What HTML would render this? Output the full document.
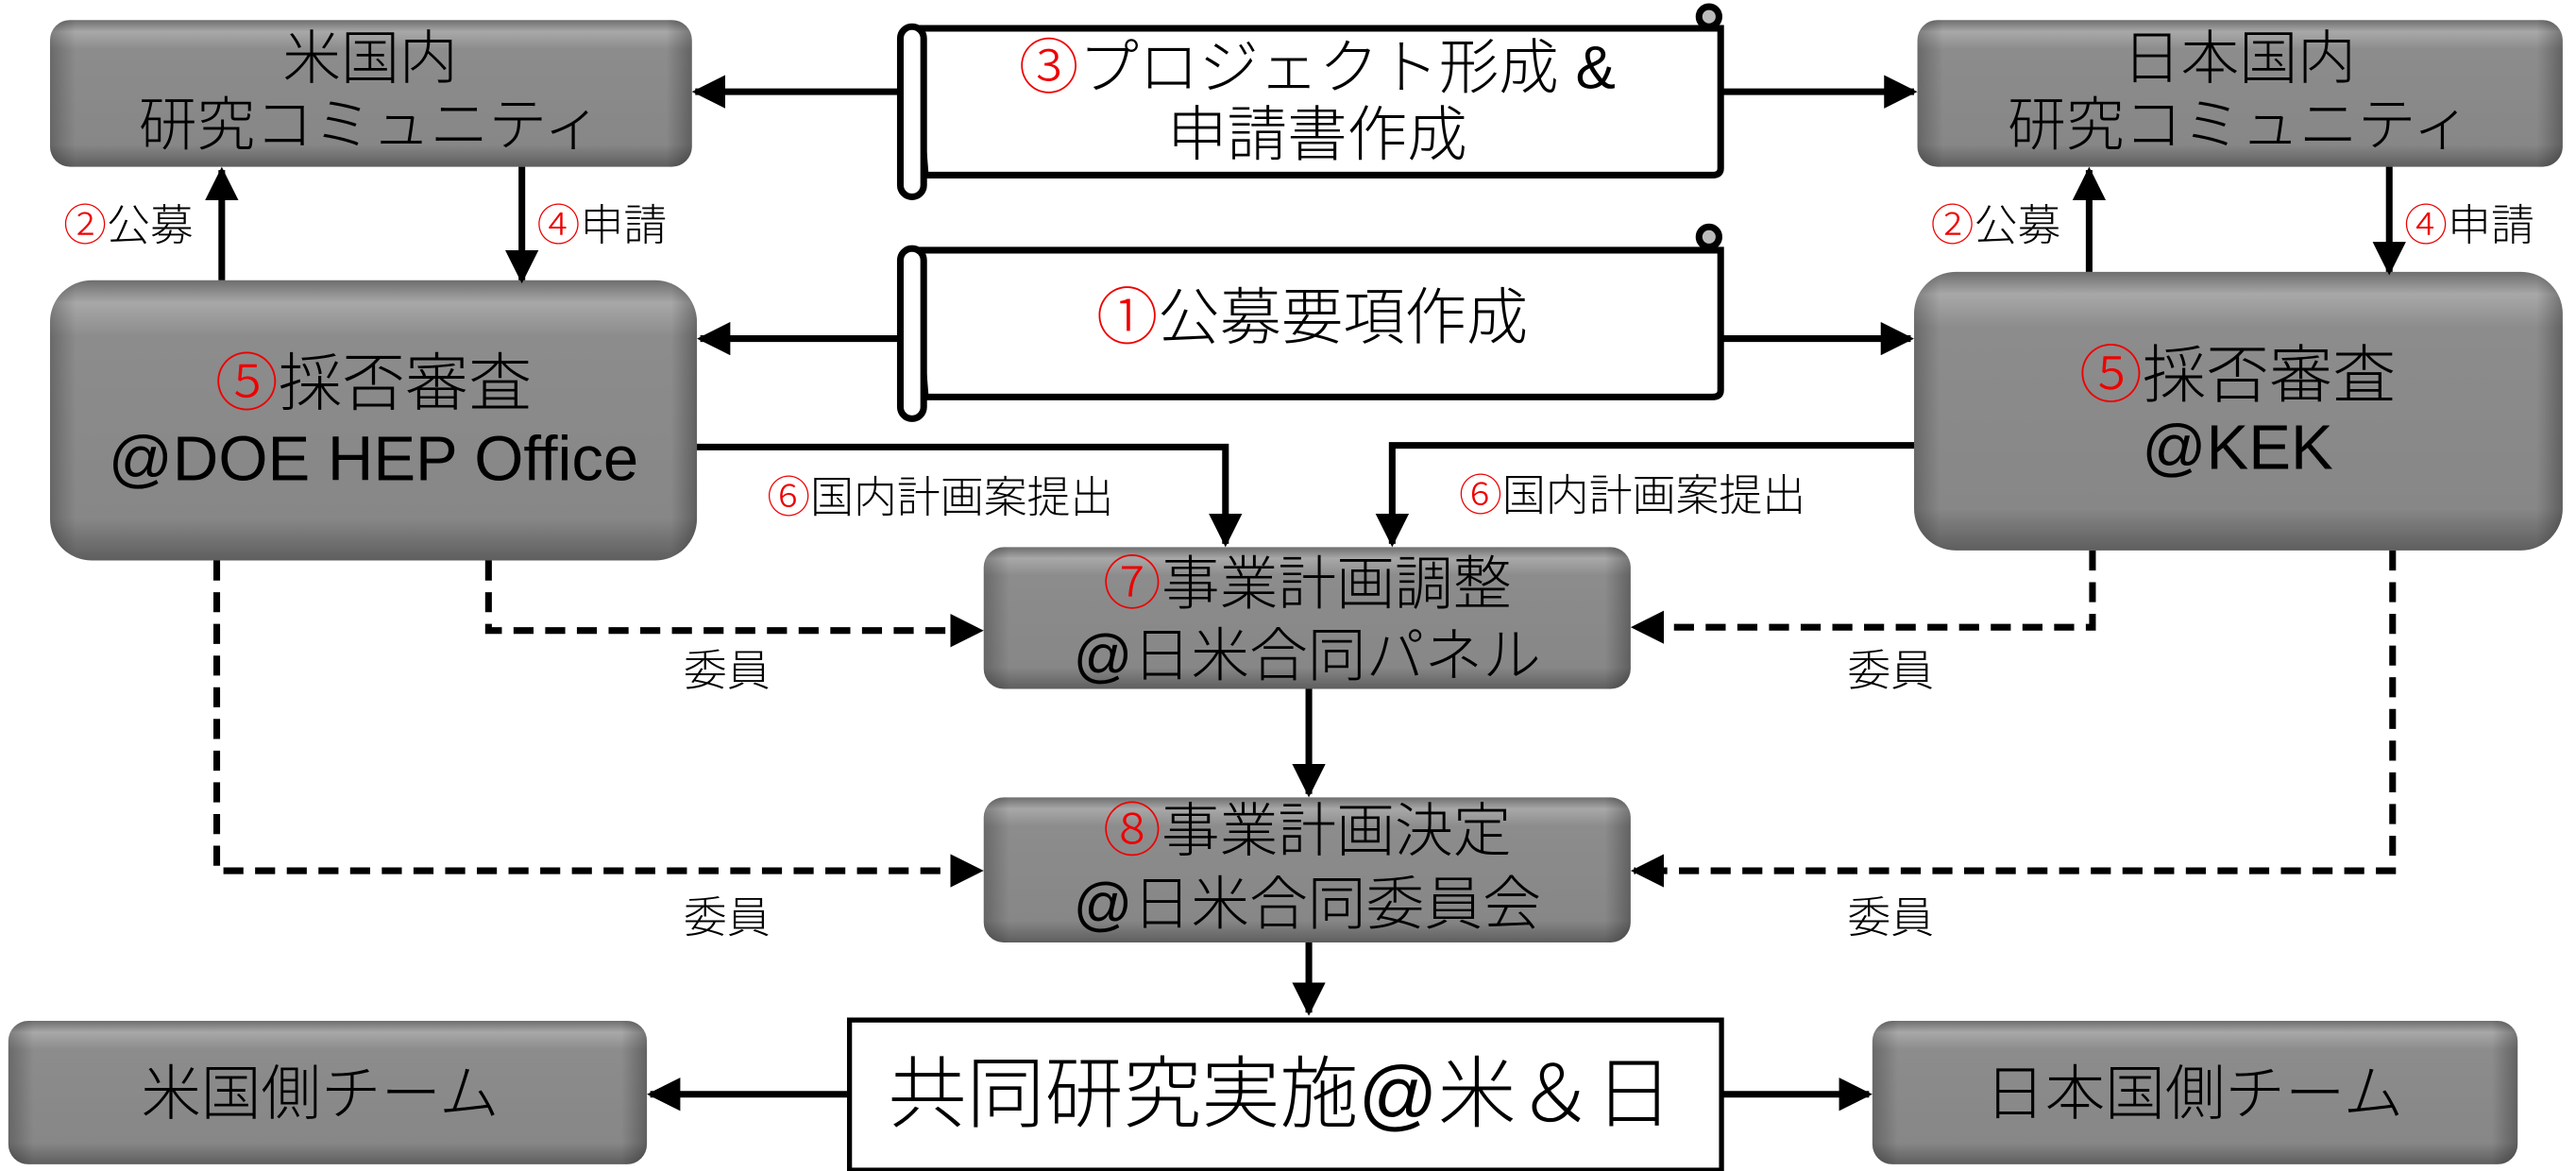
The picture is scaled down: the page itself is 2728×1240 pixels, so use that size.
<!DOCTYPE html>
<html><head><meta charset="utf-8"><style>
html,body{margin:0;padding:0;background:#fff;}
svg{display:block;}
text{font-family:"Liberation Sans","Noto Sans CJK JP",sans-serif;fill:#000;font-weight:300;}
.r{fill:#e00;}
</style></head><body>
<svg width="2728" height="1240" viewBox="0 0 1545 702" preserveAspectRatio="none" xmlns="http://www.w3.org/2000/svg">
<defs>
<linearGradient id="g" x1="0" y1="0" x2="0" y2="1">
<stop offset="0" stop-color="#6e6e6e"/><stop offset="0.08" stop-color="#a8a8a8"/><stop offset="0.2" stop-color="#8c8c8c"/><stop offset="0.85" stop-color="#878787"/><stop offset="1" stop-color="#5e5e5e"/>
</linearGradient>
<linearGradient id="gh" x1="0" y1="0" x2="1" y2="0">
<stop offset="0" stop-color="#000" stop-opacity="0.25"/><stop offset="0.04" stop-color="#000" stop-opacity="0"/><stop offset="0.96" stop-color="#000" stop-opacity="0"/><stop offset="1" stop-color="#000" stop-opacity="0.3"/>
</linearGradient>
<marker id="a" viewBox="0 0 10 10" refX="9" refY="5" markerWidth="5" markerHeight="5" orient="auto-start-reverse" markerUnits="strokeWidth"><path d="M0,0 L10,5 L0,10 z" fill="#000"/></marker>
</defs>

<g>
<rect x="30" y="12" width="385" height="88" rx="12" fill="url(#g)"/><rect x="30" y="12" width="385" height="88" rx="12" fill="url(#gh)"/>
<rect x="1150" y="12" width="387" height="88" rx="12" fill="url(#g)"/><rect x="1150" y="12" width="387" height="88" rx="12" fill="url(#gh)"/>
<rect x="30" y="168" width="388" height="168" rx="25" fill="url(#g)"/><rect x="30" y="168" width="388" height="168" rx="25" fill="url(#gh)"/>
<rect x="1148" y="163" width="389" height="167" rx="25" fill="url(#g)"/><rect x="1148" y="163" width="389" height="167" rx="25" fill="url(#gh)"/>
<rect x="590" y="328" width="388" height="85" rx="12" fill="url(#g)"/><rect x="590" y="328" width="388" height="85" rx="12" fill="url(#gh)"/>
<rect x="590" y="478" width="388" height="87" rx="12" fill="url(#g)"/><rect x="590" y="478" width="388" height="87" rx="12" fill="url(#gh)"/>
<rect x="5" y="612" width="383" height="86" rx="12" fill="url(#g)"/><rect x="5" y="612" width="383" height="86" rx="12" fill="url(#gh)"/>
<rect x="1123" y="612" width="387" height="86" rx="12" fill="url(#g)"/><rect x="1123" y="612" width="387" height="86" rx="12" fill="url(#gh)"/>
</g>

<g fill="#fff" stroke="#000" stroke-width="4">
<path d="M548,17 L1032,17 L1032,101 Q1032,105 1027,105 L555,105 Z"/>
<rect x="540" y="16" width="14" height="102" rx="7"/>
<circle cx="1025" cy="10" r="6" fill="#bbb"/>
<path d="M548,150 L1032,150 L1032,234 Q1032,238 1027,238 L555,238 Z"/>
<rect x="540" y="149" width="14" height="102" rx="7"/>
<circle cx="1025" cy="142" r="6" fill="#bbb"/>
</g>

<rect x="509.5" y="611.5" width="523" height="90" fill="#fff" stroke="#000" stroke-width="3"/>

<g stroke="#000" stroke-width="4" fill="none" marker-end="url(#a)">
<line x1="540" y1="55" x2="417" y2="55"/>
<line x1="1033" y1="55" x2="1148" y2="55"/>
<line x1="540" y1="203" x2="420" y2="203"/>
<line x1="1033" y1="203" x2="1146" y2="203"/>
<line x1="133" y1="168" x2="133" y2="102"/>
<line x1="313" y1="100" x2="313" y2="168"/>
<line x1="1253" y1="163" x2="1253" y2="102"/>
<line x1="1433" y1="100" x2="1433" y2="163"/>
<polyline points="418,268 735,268 735,326"/>
<polyline points="1148,267 835,267 835,326"/>
<line x1="785" y1="413" x2="785" y2="476"/>
<line x1="785" y1="565" x2="785" y2="607"/>
<line x1="508" y1="656" x2="390" y2="656"/>
<line x1="1033" y1="656" x2="1121" y2="656"/>
</g>
<g stroke="#000" stroke-width="4" fill="none" stroke-dasharray="12,7" marker-end="url(#a)">
<polyline points="293,336 293,378 588,378"/>
<polyline points="130,336 130,522 588,522"/>
<polyline points="1255,330 1255,376 980,376"/>
<polyline points="1435,330 1435,522 980,522"/>
</g>

<g text-anchor="middle">
<text x="222" y="47" font-size="35">米国内</text>
<text x="222" y="87" font-size="35">研究コミュニティ</text>
<text x="1343" y="47" font-size="35">日本国内</text>
<text x="1343" y="87" font-size="35">研究コミュニティ</text>
<text x="790" y="53" font-size="36"><tspan class="r">③</tspan>プロジェクト形成 &amp;</text>
<text x="790" y="93" font-size="36">申請書作成</text>
<text x="787" y="203" font-size="37"><tspan class="r">①</tspan>公募要項作成</text>
<text x="224" y="243" font-size="38"><tspan class="r">⑤</tspan>採否審査</text>
<text x="224" y="288" font-size="38">@DOE HEP Office</text>
<text x="1342" y="238" font-size="38"><tspan class="r">⑤</tspan>採否審査</text>
<text x="1342" y="281" font-size="38">@KEK</text>
<text x="784" y="362" font-size="35"><tspan class="r">⑦</tspan>事業計画調整</text>
<text x="784" y="405" font-size="35">@日米合同パネル</text>
<text x="784" y="510" font-size="35"><tspan class="r">⑧</tspan>事業計画決定</text>
<text x="784" y="554" font-size="35">@日米合同委員会</text>
<text x="768" y="672" font-size="47">共同研究実施@米＆日</text>
<text x="192" y="668" font-size="36">米国側チーム</text>
<text x="1316" y="668" font-size="36">日本国側チーム</text>
</g>
<g font-size="26">
<text x="38" y="144"><tspan class="r">②</tspan>公募</text>
<text x="322" y="144"><tspan class="r">④</tspan>申請</text>
<text x="1158" y="144"><tspan class="r">②</tspan>公募</text>
<text x="1442" y="144"><tspan class="r">④</tspan>申請</text>
<text x="460" y="307"><tspan class="r">⑥</tspan>国内計画案提出</text>
<text x="875" y="306"><tspan class="r">⑥</tspan>国内計画案提出</text>
<text x="410" y="411">委員</text>
<text x="410" y="559">委員</text>
<text x="1108" y="411">委員</text>
<text x="1108" y="559">委員</text>
</g>
</svg>
</body></html>
